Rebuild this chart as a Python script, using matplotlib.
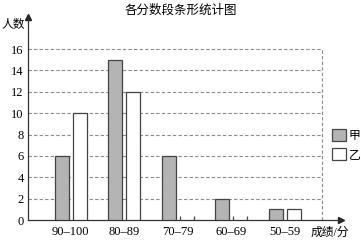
import numpy as np
import matplotlib
matplotlib.use("Agg")
import matplotlib.pyplot as plt
from matplotlib.patches import Patch

plt.rcParams['font.family'] = ['Liberation Serif', 'Noto Sans CJK SC']

categories = ['90–100', '80–89', '70–79', '60–69', '50–59']
jia = [6, 15, 6, 2, 1]
yi = [10, 12, 0, 0, 1]
yticks = [0, 2, 4, 6, 8, 10, 12, 14, 16]

fig = plt.figure(figsize=(3.61, 2.42), dpi=100)
ax = fig.add_axes([0.0776, 0.0909, 0.867, 0.839])

x = np.arange(len(categories))
w = 0.26
off = 0.168
edge = '#444444'
grid_c = '#8a8a8a'
xr = 4.69

# dashed grid + right border
for t in yticks[1:]:
    ax.plot([-0.8, xr], [t, t], ls=(0, (3, 2)), color=grid_c, lw=0.8, zorder=1)
ax.plot([xr, xr], [0, yticks[-1]], ls=(0, (3, 2)), color=grid_c, lw=0.8, zorder=1)

ax.bar(x - off, jia, w, color='#b4b4b4', edgecolor=edge, lw=0.9, zorder=3)
yi_arr = np.array(yi)
nz = yi_arr > 0
ax.bar(x[nz] + off, yi_arr[nz], w, color='white', edgecolor=edge, lw=0.9, zorder=3)
# zero-height bars shown as short open marks
for xi in x[~nz]:
    ax.vlines([xi + off - w / 2, xi + off + w / 2], 0, 0.4, color=edge, lw=0.9, zorder=3)

ax.set_xlim(-0.8, 5.05)
ax.set_ylim(0, 19)
ax.set_yticks(yticks)
ax.set_yticklabels([str(t) for t in yticks], fontsize=9)
ax.set_xticks(x)
ax.set_xticklabels(categories, fontsize=9)
ax.tick_params(length=0, pad=3)
ax.tick_params(axis='x', pad=4)

for s in ['top', 'right']:
    ax.spines[s].set_visible(False)
for s in ['left', 'bottom']:
    ax.spines[s].set_color('#333333')
    ax.spines[s].set_linewidth(0.9)
ax.plot(1, 0, '>', color='#222222', ms=4, transform=ax.transAxes, clip_on=False)
ax.plot(0, 1, '^', color='#222222', ms=4, transform=ax.transAxes, clip_on=False)

fig.text(0.068, 0.895, '人数', fontsize=8.5, ha='right', va='center')
ax.text(5.2, -1.2, '成绩/分', fontsize=8.5, ha='right', va='center')
fig.text(0.5, 0.955, '各分数段条形统计图', fontsize=9, ha='center', va='center')

handles = [Patch(facecolor='#b4b4b4', edgecolor=edge, lw=0.9),
           Patch(facecolor='white', edgecolor=edge, lw=0.9)]
ax.legend(handles, ['甲', '乙'], loc='upper left', bbox_to_anchor=(0.955, 0.47),
          frameon=False, handlelength=1.2, handleheight=1.2, handletextpad=0.25,
          labelspacing=0.45, fontsize=8.5, borderaxespad=0)

fig.savefig('out.png', dpi=100)
